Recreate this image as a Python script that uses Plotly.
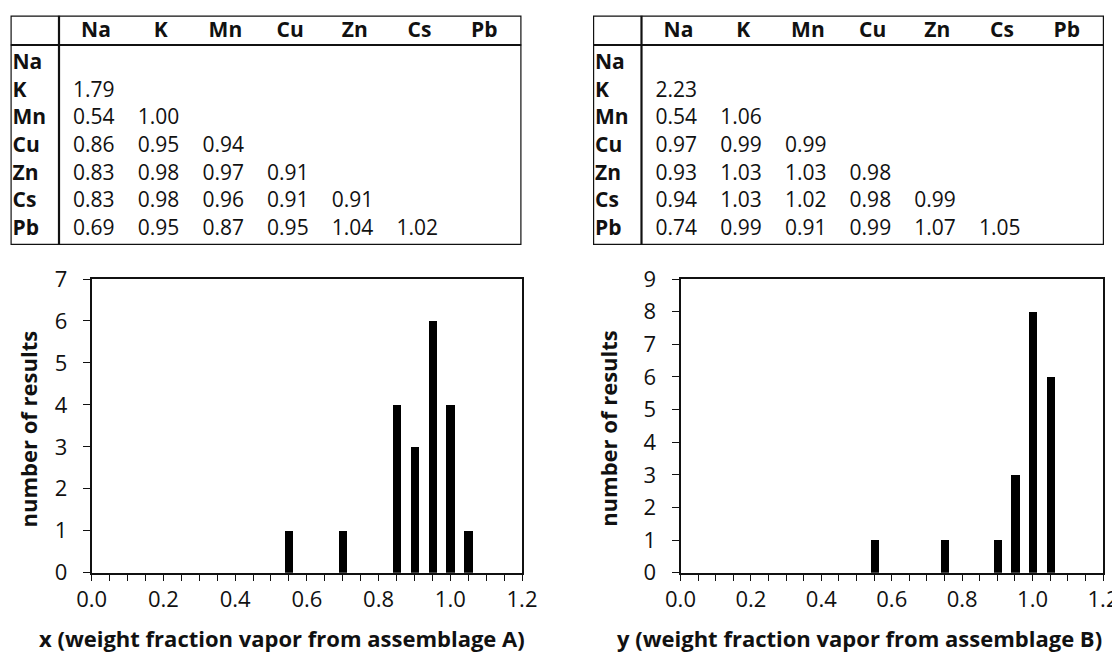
import plotly.graph_objects as go

# ---------------- data ----------------
elements = ["Na", "K", "Mn", "Cu", "Zn", "Cs", "Pb"]

# lower-triangular ratio tables (row element vs column element)
table_a_K = [1.79]
table_a_Mn = [0.54, 1.00]
table_a_Cu = [0.86, 0.95, 0.94]
table_a_Zn = [0.83, 0.98, 0.97, 0.91]
table_a_Cs = [0.83, 0.98, 0.96, 0.91, 0.91]
table_a_Pb = [0.69, 0.95, 0.87, 0.95, 1.04, 1.02]

table_b_K = [2.23]
table_b_Mn = [0.54, 1.06]
table_b_Cu = [0.97, 0.99, 0.99]
table_b_Zn = [0.93, 1.03, 1.03, 0.98]
table_b_Cs = [0.94, 1.03, 1.02, 0.98, 0.99]
table_b_Pb = [0.74, 0.99, 0.91, 0.99, 1.07, 1.05]

hist_a_bins = [0.55, 0.70, 0.85, 0.90, 0.95, 1.00, 1.05]
hist_a_counts = [1, 1, 4, 3, 6, 4, 1]

hist_b_bins = [0.55, 0.75, 0.90, 0.95, 1.00, 1.05]
hist_b_counts = [1, 1, 1, 3, 8, 6]

x_tick_vals = [0.0, 0.2, 0.4, 0.6, 0.8, 1.0, 1.2]
x_title_a = "x (weight fraction vapor from assemblage A)"
x_title_b = "y (weight fraction vapor from assemblage B)"
y_title = "number of results"

rows_a = [[], table_a_K, table_a_Mn, table_a_Cu, table_a_Zn, table_a_Cs, table_a_Pb]
rows_b = [[], table_b_K, table_b_Mn, table_b_Cu, table_b_Zn, table_b_Cs, table_b_Pb]

# ---------------- layout helpers ----------------
# the page body adds an 8px margin, so the figure is drawn 8px smaller and
# every target pixel position is shifted by that margin
OFF = 8
W, H = 1120 - OFF, 652 - OFF
FONT = "Open Sans"
INK = "#111111"


def px_x(v):
    return (v - OFF) / W


def px_y(v):
    return 1 - (v - OFF) / H


fig = go.Figure()

# ---------------- histograms ----------------
for xa, ya, bins, counts in [("x", "y", hist_a_bins, hist_a_counts),
                             ("x2", "y2", hist_b_bins, hist_b_counts)]:
    fig.add_trace(go.Bar(
        x=bins, y=counts, width=0.023, xaxis=xa, yaxis=ya,
        marker=dict(color="black", line=dict(width=0)), showlegend=False,
    ))

common_x = dict(
    range=[0, 1.2], tickvals=x_tick_vals, tickformat=".1f",
    ticks="outside", ticklen=6, tickwidth=1.4, tickcolor=INK,
    minor=dict(dtick=0.05, ticks="outside", ticklen=6, tickwidth=1.4, tickcolor=INK),
    showline=True, linecolor=INK, linewidth=1.8, mirror=True,
    showgrid=False, zeroline=False, automargin=False,
    tickfont=dict(family=FONT, size=22, color=INK),
)
common_y = dict(
    dtick=1, ticks="outside", ticklen=7, tickwidth=1.4, tickcolor=INK,
    showline=True, linecolor=INK, linewidth=1.8, mirror=True,
    showgrid=False, zeroline=False, automargin=False,
    tickfont=dict(family=FONT, size=22, color=INK),
    ticklabelstandoff=11,
)

P_TOP, P_BOT = 279.0, 572.7
ydom = [px_y(P_BOT), px_y(P_TOP)]
fig.update_layout(
    xaxis=dict(common_x, domain=[px_x(91.7), px_x(522.0)], anchor="y"),
    yaxis=dict(common_y, domain=ydom, range=[0, 7], anchor="x"),
    xaxis2=dict(common_x, domain=[px_x(680.5), px_x(1103.0)], anchor="y2"),
    yaxis2=dict(common_y, domain=ydom, range=[0, 9], anchor="x2"),
)

# axis titles
title_font = dict(family=FONT, size=22, color=INK)
for tx, cx in [(x_title_a, 281.5), (x_title_b, 859.5)]:
    fig.add_annotation(text="<b>" + tx + "</b>", x=px_x(cx), y=px_y(637.5), xref="paper", yref="paper",
                       xanchor="center", yanchor="middle", showarrow=False, font=title_font)
for cx in [27.6, 608.0]:
    fig.add_annotation(text="<b>" + y_title + "</b>", x=px_x(cx), y=px_y((P_TOP + P_BOT) / 2 + 3),
                       xref="paper", yref="paper", xanchor="center", yanchor="middle",
                       textangle=-90, showarrow=False, font=title_font)

# ---------------- tables (text on hidden axes, units = pixels inside the box) ----------------
T_TOP = 15.5
TW, TH = 511.0, 229.5
col_start = 62.5     # left edge of first value column
col_step = 64.7
head_off = 23.0      # header centre relative to value start
row_y0 = 48.5        # centre of first body row
row_step = 27.6
head_y = 16.5
label_x = 2.0
head_line_y = 29.5
label_line_x = 48.5
TFS = 21

tables = [("x3", "y3", rows_a, 10.5), ("x4", "y4", rows_b, 593.0)]
for i, (xa, ya, rows, left) in enumerate(tables):
    # header
    fig.add_trace(go.Scatter(
        x=[col_start + head_off + col_step * j for j in range(len(elements))],
        y=[head_y] * len(elements),
        text=["<b>" + e + "</b>" for e in elements],
        mode="text", textposition="middle center",
        textfont=dict(family=FONT, size=TFS, color=INK),
        xaxis=xa, yaxis=ya, showlegend=False, hoverinfo="skip",
    ))
    # row labels
    fig.add_trace(go.Scatter(
        x=[label_x] * len(elements),
        y=[row_y0 + row_step * r for r in range(len(elements))],
        text=["<b>" + e + "</b>" for e in elements],
        mode="text", textposition="middle right",
        textfont=dict(family=FONT, size=TFS, color=INK),
        xaxis=xa, yaxis=ya, showlegend=False, hoverinfo="skip",
    ))
    # values
    vx, vy, vt = [], [], []
    for r, row in enumerate(rows):
        for j, v in enumerate(row):
            vx.append(col_start + col_step * j)
            vy.append(row_y0 + row_step * r)
            vt.append(f"{v:.2f}")
    fig.add_trace(go.Scatter(
        x=vx, y=vy, text=vt, mode="text", textposition="middle right",
        textfont=dict(family=FONT, size=TFS, color=INK),
        xaxis=xa, yaxis=ya, showlegend=False, hoverinfo="skip",
    ))
    n = "3" if i == 0 else "4"
    fig.layout["xaxis" + n] = dict(
        domain=[px_x(left), px_x(left + TW)], range=[0, TW], visible=False,
        anchor="y" + n, fixedrange=True, automargin=False,
    )
    fig.layout["yaxis" + n] = dict(
        domain=[px_y(T_TOP + TH), px_y(T_TOP)], range=[TH, 0], visible=False,
        anchor="x" + n, fixedrange=True, automargin=False,
    )
    # borders
    fig.add_shape(type="rect", xref=xa, yref=ya, x0=0, x1=TW, y0=0, y1=TH,
                  line=dict(color=INK, width=2.4))
    fig.add_shape(type="line", xref=xa, yref=ya, x0=0, x1=TW, y0=head_line_y, y1=head_line_y,
                  line=dict(color=INK, width=2.2))
    fig.add_shape(type="line", xref=xa, yref=ya, x0=label_line_x, x1=label_line_x, y0=0, y1=TH,
                  line=dict(color=INK, width=2.2))

fig.update_layout(
    width=W, height=H,
    margin=dict(l=0, r=0, t=0, b=0),
    paper_bgcolor="white", plot_bgcolor="white",
    font=dict(family=FONT, color=INK),
    bargap=0,
)

fig.write_html("out.html")
